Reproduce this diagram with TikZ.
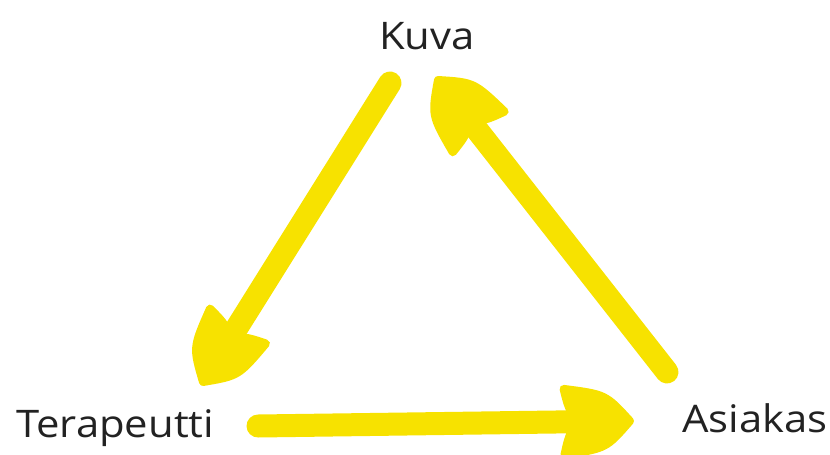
\documentclass[tikz,border=0pt]{standalone}
\usepackage{fontspec}
\setmainfont{Open Sans}[FakeStretch=1.1]
\usetikzlibrary{calc}
\definecolor{paint}{RGB}{247,226,0}
\definecolor{ink}{RGB}{34,34,34}
\tikzset{
  lbl/.style={inner sep=0pt, text=ink, font=\fontsize{38}{40}\selectfont},
  shaft/.style={draw=paint, line width=23pt, line cap=round},
  headfill/.style={fill=paint, draw=paint, line width=8pt, line join=round}
}
% local point: #1 name, #2 along (from tip toward start), #3 across, #4 start, #5 tip
\newcommand{\locpt}[5]{%
  \coordinate (tmpP) at ($(#5)!#2pt!(#4)$);
  \coordinate (#1) at ($(tmpP)!#3pt!90:(#5)$);
}
\newcommand{\paintarrow}[2]{%
  \locpt{nt}{54}{0}{#1}{#2}
  \locpt{bl}{66}{33}{#1}{#2}
  \locpt{br}{66}{-33}{#1}{#2}
  \locpt{cl}{24}{27}{#1}{#2}
  \locpt{cr}{24}{-27}{#1}{#2}
  \locpt{ml}{62}{16}{#1}{#2}
  \locpt{mr}{62}{-16}{#1}{#2}
  \draw[shaft] (#1) -- (nt);
  \path[headfill] (#2) .. controls (cl) .. (bl) .. controls (ml) .. (nt)
     .. controls (mr) .. (br) .. controls (cr) .. (#2) -- cycle;
}
\begin{document}
\begin{tikzpicture}[x=1pt,y=-1pt]
\useasboundingbox (0,0) rectangle (830,455);
\node[lbl, anchor=base] (kuva) at (427,49) {Kuva};
\node[lbl, anchor=base west] (tera) at (16,437) {Terapeutti};
\node[lbl, anchor=base west] (asia) at (682,432) {Asiakas};
\coordinate (a1s) at (390,83);
\coordinate (a1t) at (203,382);
\coordinate (a2s) at (258,426);
\coordinate (a2t) at (630,421);
\coordinate (a3s) at (667,372);
\coordinate (a3t) at (438,80);
\paintarrow{a1s}{a1t}
\paintarrow{a2s}{a2t}
\paintarrow{a3s}{a3t}
\end{tikzpicture}
\end{document}
